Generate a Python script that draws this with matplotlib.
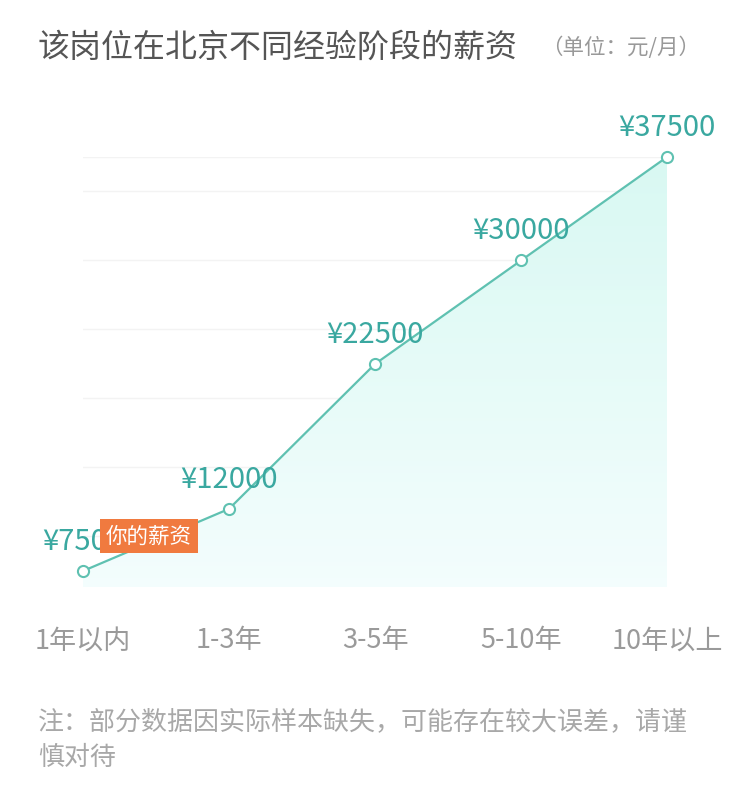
import numpy as np
import matplotlib
matplotlib.use("Agg")
import matplotlib.pyplot as plt

plt.rcParams['font.family'] = ['Noto Sans CJK SC', 'DejaVu Sans']

stages = ["1年以内", "1-3年", "3-5年", "5-10年", "10年以上"]
salary = [7500, 12000, 22500, 30000, 37500]
grid_levels = [10000, 15000, 20000, 25000, 30000, 35000, 37500]

title = "该岗位在北京不同经验阶段的薪资"
unit = "（单位：元/月）"
badge = "你的薪资"
note = "注：部分数据因实际样本缺失，可能存在较大误差，请谨\n慎对待"

line_c = "#5fc1b1"
label_c = "#3aa8a0"

fig = plt.figure(figsize=(7.36, 8), dpi=100)
ax = fig.add_axes([83/736, 1-587/800, (667-83)/736, (587-157)/800])
x = np.arange(len(stages))
ax.set_xlim(0, len(stages)-1)
ax.set_ylim(6340, 37500)

for g in grid_levels:
    ax.axhline(g, color="#f3f3f3", lw=1, zorder=0)
ax.axhline(6340, color="#eeeeee", lw=1.2, zorder=0)

# gradient fill under the line
y0 = ax.get_ylim()[0]
poly = ax.fill_between(x, salary, y0, color="none", lw=0)
grad = np.linspace(0, 1, 256).reshape(-1, 1)
top = np.array([0.85, 0.975, 0.95])
bot = np.array([0.955, 0.993, 0.993])
img = top + (bot - top) * grad
img = img.reshape(256, 1, 3)
im = ax.imshow(img, extent=[0, len(stages)-1, y0, max(salary)], aspect="auto",
               origin="upper", zorder=1)
im.set_clip_path(poly.get_paths()[0], transform=ax.transData)

ax.plot(x, salary, color=line_c, lw=1.6, zorder=3, marker="o", ms=8,
        mfc="white", mec=line_c, mew=1.5, clip_on=False)

for xi, v in zip(x, salary):
    ax.annotate(f"¥{v}", (xi, v), xytext=(0, 21), textcoords="offset points",
                ha="center", va="center", fontsize=21, color=label_c, zorder=4,
                fontweight="light", annotation_clip=False)

# badge sits on top of the first label, as in the original
ax.annotate(badge, (x[0], salary[0]), xytext=(47.5, 25), textcoords="offset points",
            ha="center", va="center", fontsize=15.5, color="white", zorder=5,
            fontweight="light",
            bbox=dict(boxstyle="square,pad=0.27", fc="#f07a3f", ec="none"),
            annotation_clip=False)

ax.set_xticks(x)
ax.set_xticklabels(stages, fontsize=19.5, color="#9a9a9a", fontweight="light")
ax.tick_params(axis="x", length=0, pad=29)
ax.set_yticks([])
for s in ax.spines.values():
    s.set_visible(False)
ax.set_facecolor("none")

fig.text(38/736, 1-48/800, title, fontsize=23, color="#555555", va="center", ha="left")
fig.text(700/736, 1-48/800, unit, fontsize=15.5, color="#999999", va="center", ha="right",
         fontweight="light")
fig.text(38/736, 1-708/800, note, fontsize=18.7, color="#a8a8a8", va="top", ha="left",
         linespacing=1.45, fontweight="light")

fig.savefig("out.png", dpi=100, facecolor="white")
